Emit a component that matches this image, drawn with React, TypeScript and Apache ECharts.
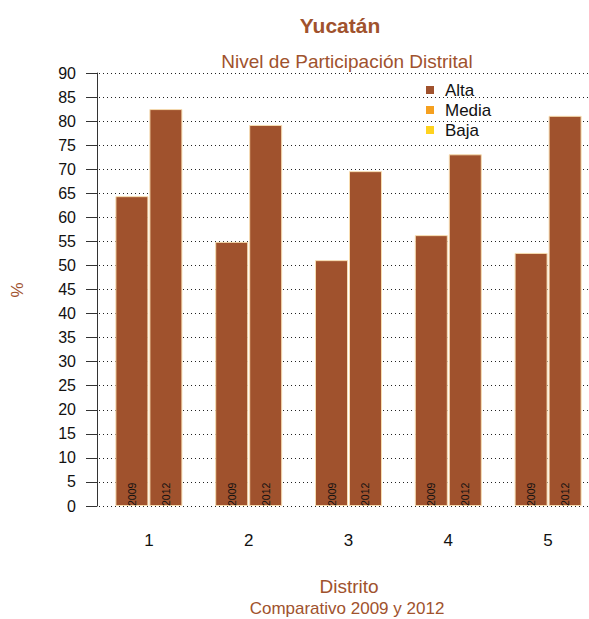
import React, { useEffect, useRef } from "react";
import * as echarts from "echarts";

const distritos = ["1", "2", "3", "4", "5"];
const valores2009 = [64.4, 54.9, 51.1, 56.3, 52.6];
const valores2012 = [82.5, 79.2, 69.6, 73.1, 81.1];
const niveles = ["Alta", "Media", "Baja"];
const coloresNivel = ["#A0522D", "#F5A01F", "#FFD21F"];

const FONT = "'Liberation Sans', Arial, Helvetica, sans-serif";
const SIENNA = "#A0522D";

export default function App() {
  const ref = useRef<HTMLDivElement>(null);
  useEffect(() => {
    if (!ref.current) return;
    const chart = echarts.init(ref.current, null, { renderer: "svg" });
    const barLabel = (txt: string) => ({
      show: true,
      position: "insideBottom",
      rotate: 90,
      align: "left",
      verticalAlign: "middle",
      distance: 0,
      formatter: txt,
      fontSize: 10.5,
      color: "#111",
      fontFamily: FONT,
    });
    chart.setOption({
      animation: false,
      textStyle: { fontFamily: FONT },
      title: [
        {
          text: "Yucatán",
          left: 340,
          top: 14,
          padding: 0,
          textAlign: "center",
          textStyle: { color: SIENNA, fontSize: 21, lineHeight: 22, fontWeight: "bold", fontFamily: FONT },
        },
        {
          text: "Nivel de Participación Distrital",
          left: 347,
          top: 51,
          padding: 0,
          textAlign: "center",
          textStyle: { color: SIENNA, fontSize: 19, lineHeight: 20, fontWeight: "normal", fontFamily: FONT },
        },
        {
          text: "Distrito",
          left: 349,
          top: 576,
          padding: 0,
          textAlign: "center",
          textStyle: { color: SIENNA, fontSize: 19, lineHeight: 20, fontWeight: "normal", fontFamily: FONT },
        },
        {
          text: "Comparativo 2009 y 2012",
          left: 347,
          top: 600,
          padding: 0,
          textAlign: "center",
          textStyle: { color: SIENNA, fontSize: 17, lineHeight: 17, fontWeight: "normal", fontFamily: FONT },
        },
      ],
      graphic: [
        {
          type: "text",
          x: 17,
          y: 290,
          rotation: Math.PI / 2,
          style: {
            text: "%",
            fill: SIENNA,
            fontSize: 17,
            fontFamily: FONT,
            align: "center",
            verticalAlign: "middle",
          },
        },
      ],
      legend: {
        data: niveles.map((n) => ({ name: n, icon: "rect" })),
        orient: "vertical",
        left: 426,
        top: 80,
        padding: 0,
        itemWidth: 8,
        itemHeight: 8,
        itemGap: 0,
        itemStyle: { borderWidth: 0 },
        textStyle: {
          fontSize: 17,
          color: "#111",
          fontFamily: FONT,
          lineHeight: 20,
          padding: [0, 0, 0, 6],
        },
        selectedMode: false,
      },
      grid: { left: 99, top: 73, width: 499, height: 433 },
      xAxis: {
        type: "category",
        data: distritos,
        axisLine: { show: false },
        axisTick: { show: false },
        axisLabel: { fontSize: 17, color: "#111", margin: 26, fontFamily: FONT },
      },
      yAxis: {
        type: "value",
        min: 0,
        max: 90,
        interval: 5,
        offset: 2,
        axisLine: { show: true, lineStyle: { color: "#333", width: 1 } },
        axisTick: { show: true, length: 11, lineStyle: { color: "#333" } },
        axisLabel: { fontSize: 16, color: "#111", margin: 21, fontFamily: FONT },
        splitLine: { show: true, lineStyle: { color: "#222", type: [1, 3], width: 1 } },
      },
      series: [
        {
          name: "Alta",
          type: "bar",
          data: valores2009,
          barWidth: 33,
          barGap: "3%",
          itemStyle: { color: coloresNivel[0], borderColor: "#F7DDB0", borderWidth: 1 },
          label: barLabel("2009"),
        },
        {
          name: "Alta",
          type: "bar",
          data: valores2012,
          barWidth: 33,
          barGap: "3%",
          itemStyle: { color: coloresNivel[0], borderColor: "#F7DDB0", borderWidth: 1 },
          label: barLabel("2012"),
        },
        { name: "Media", type: "line", data: [], itemStyle: { color: coloresNivel[1] } },
        { name: "Baja", type: "line", data: [], itemStyle: { color: coloresNivel[2] } },
      ],
    });
    return () => chart.dispose();
  }, []);
  return (
    <div
      style={{
        position: "absolute",
        left: 0,
        top: 0,
        width: 589,
        height: 619,
        overflow: "hidden",
        background: "#fff",
      }}
    >
      <div ref={ref} style={{ width: 620, height: 619 }} />
    </div>
  );
}
